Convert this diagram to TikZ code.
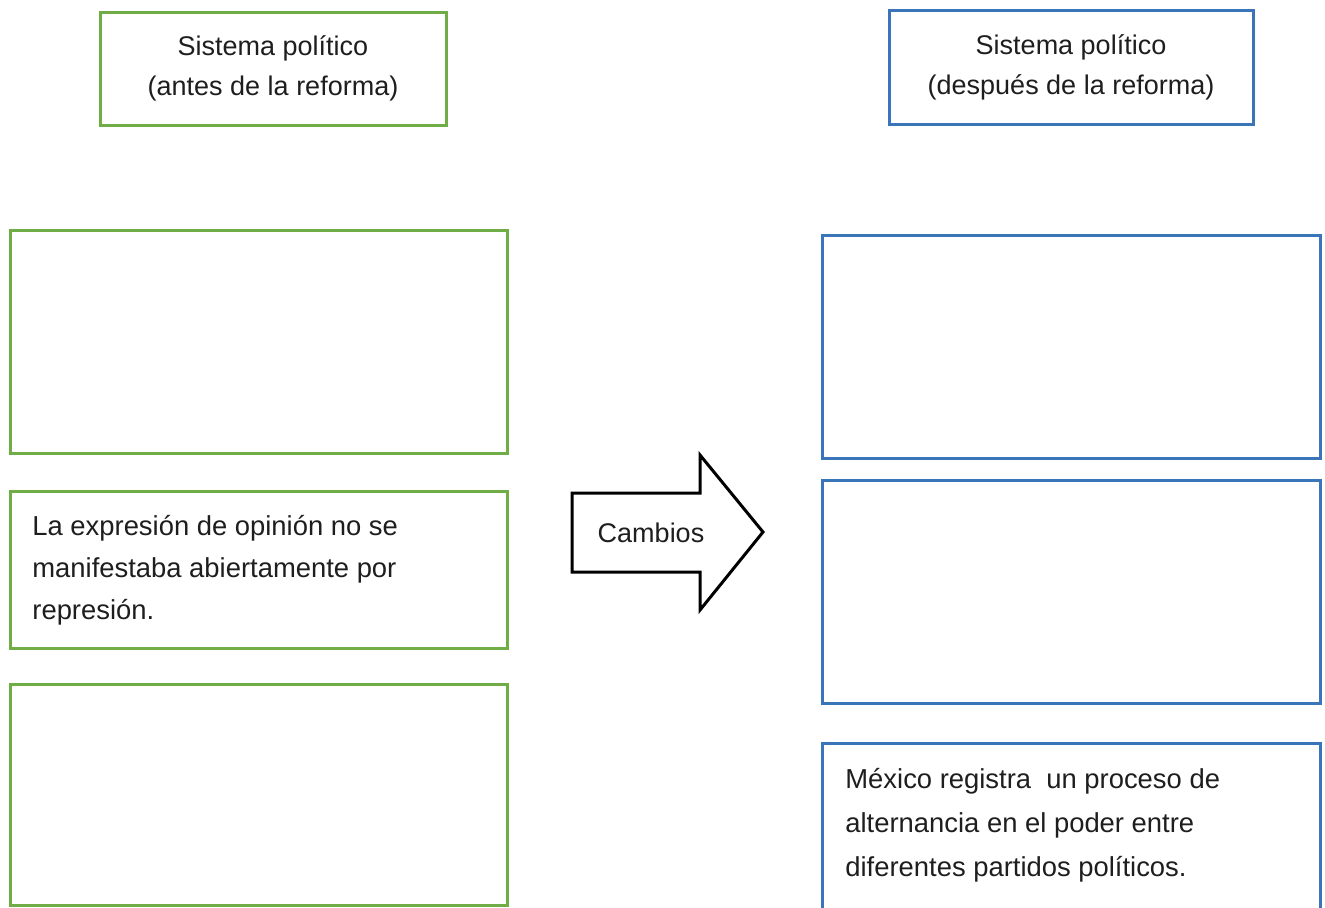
\documentclass[tikz,border=0pt]{standalone}
\usepackage{fontspec}
\setmainfont{Liberation Sans}
\definecolor{gbox}{RGB}{112,173,71}
\definecolor{bbox}{RGB}{58,117,185}
\definecolor{txt}{RGB}{30,30,30}
\begin{document}
\begin{tikzpicture}[x=0.5pt,y=-0.5pt,
  gframe/.style={draw=gbox,line width=1.5pt,fill=white,inner sep=0pt},
  bframe/.style={draw=bbox,line width=1.5pt,fill=white,inner sep=0pt},
  title/.style={align=center,text=txt,font=\fontsize{13.5}{20}\selectfont},
  body/.style={align=left,text=txt,anchor=west,inner sep=0pt,font=\fontsize{13.7}{21}\selectfont},
  arrowshape/.style={draw=black,line width=1.5pt,fill=white,line join=miter}]
\useasboundingbox (0,0) rectangle (1325,907);
% titles
\node[gframe,minimum width=173pt,minimum height=56.5pt] (lt) at (273,68.5) {};
\node[title] (ltt) at (lt.center) {Sistema político\\(antes de la reforma)};
\node[bframe,minimum width=182pt,minimum height=57pt] (rt) at (1071,67) {};
\node[title] (rtt) at (rt.center) {Sistema político\\(después de la reforma)};
% left boxes
\node[gframe,minimum width=248.5pt,minimum height=111.5pt] (l1) at (258.5,341.5) {};
\node[gframe,minimum width=248.5pt,minimum height=78.5pt] (l2) at (258.5,569.5) {};
\node[body] (l2t) at (32,570) {La expresión de opinión no se\\manifestaba abiertamente por\\represión.};
\node[gframe,minimum width=248.5pt,minimum height=110.5pt] (l3) at (258.5,794.5) {};
% right boxes
\node[bframe,minimum width=249pt,minimum height=111.5pt] (r1) at (1071,346.5) {};
\node[bframe,minimum width=249pt,minimum height=111.5pt] (r2) at (1071,591.5) {};
\coordinate (r3bl) at (822,915);
\coordinate (r3tl) at (822,743);
\coordinate (r3tr) at (1320,743);
\coordinate (r3br) at (1320,915);
\draw[draw=bbox,line width=1.5pt,line join=miter] (r3bl) -- (r3tl) -- (r3tr) -- (r3br);
\node[body,font=\fontsize{13.7}{22}\selectfont] (r3t) at (845,825) {México registra\ \ un proceso de\\alternancia en el poder entre\\diferentes partidos políticos.};
% arrow
\draw[arrowshape] (572,493) -- (700,493) -- (700,455) -- (763,532) -- (700,610) -- (700,572) -- (572,572) -- cycle;
\node[title] (cam) at (651,533) {Cambios};
\end{tikzpicture}
\end{document}
